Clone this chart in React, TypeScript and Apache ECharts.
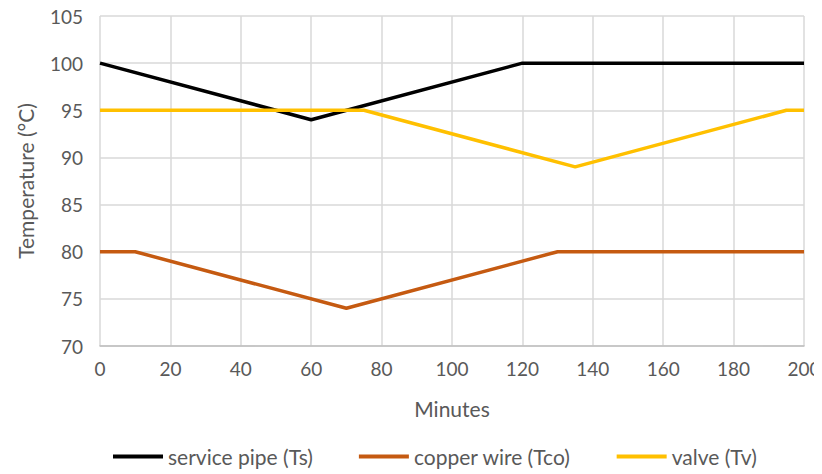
import React, { useEffect, useRef } from "react";
import * as echarts from "echarts";

const seriesNames = ["service pipe (Ts)", "copper wire (Tco)", "valve (Tv)"];
const serviceX = [0, 60, 120, 200];
const serviceY = [100, 94, 100, 100];
const copperX = [0, 10, 70, 130, 200];
const copperY = [80, 80, 74, 80, 80];
const valveX = [0, 75, 135, 195, 200];
const valveY = [95, 95, 89, 95, 95];
const colors = ["#000000", "#C55A11", "#FFC000"];

const pairs = (xs: number[], ys: number[]) => xs.map((x, i) => [x, ys[i]]);

export default function App() {
  const ref = useRef<HTMLDivElement>(null);
  useEffect(() => {
    const chart = echarts.init(ref.current!, null, { renderer: "svg" });
    const font = "Lato, 'Open Sans', sans-serif";
    chart.setOption({
      animation: false,
      textStyle: { fontFamily: font },
      grid: { left: 100, right: 18, top: 16, bottom: 128, outerBoundsMode: "none", containLabel: false },
      legend: {
        bottom: 2,
        left: 108,
        itemWidth: 50,
        itemHeight: 4,
        itemGap: 46,
        icon: "rect",
        textStyle: { fontSize: 21, color: "#595959", fontFamily: font },
        data: seriesNames,
      },
      xAxis: {
        type: "value",
        min: 0,
        max: 200,
        interval: 20,
        name: "Minutes",
        nameLocation: "middle",
        nameGap: 52,
        nameTextStyle: { fontSize: 21, color: "#595959", fontFamily: font },
        axisLine: { lineStyle: { color: "#BFBFBF", width: 1.5 } },
        axisTick: { show: false },
        axisLabel: { fontSize: 19, color: "#595959", margin: 13, fontFamily: font },
        splitLine: { show: true, lineStyle: { color: "#D9D9D9", width: 1.5 } },
      },
      yAxis: {
        type: "value",
        min: 70,
        max: 105,
        interval: 5,
        name: "Temperature (°C)",
        nameLocation: "middle",
        nameGap: 64,
        nameTextStyle: { fontSize: 21, color: "#595959", fontFamily: font },
        axisLine: { show: false },
        axisTick: { show: false },
        axisLabel: { fontSize: 19, color: "#595959", margin: 17, fontFamily: font },
        splitLine: { lineStyle: { color: "#D9D9D9", width: 1.5 } },
      },
      series: [
        { name: seriesNames[0], data: pairs(serviceX, serviceY) },
        { name: seriesNames[1], data: pairs(copperX, copperY) },
        { name: seriesNames[2], data: pairs(valveX, valveY) },
      ].map((s, i) => ({
        ...s,
        type: "line",
        showSymbol: false,
        symbol: "none",
        color: colors[i],
        lineStyle: { color: colors[i], width: 3.5 },
      })),
    });
    return () => chart.dispose();
  }, []);
  return <div ref={ref} style={{ width: 822, height: 474, margin: "-8px 0 0 -8px" }} />;
}
